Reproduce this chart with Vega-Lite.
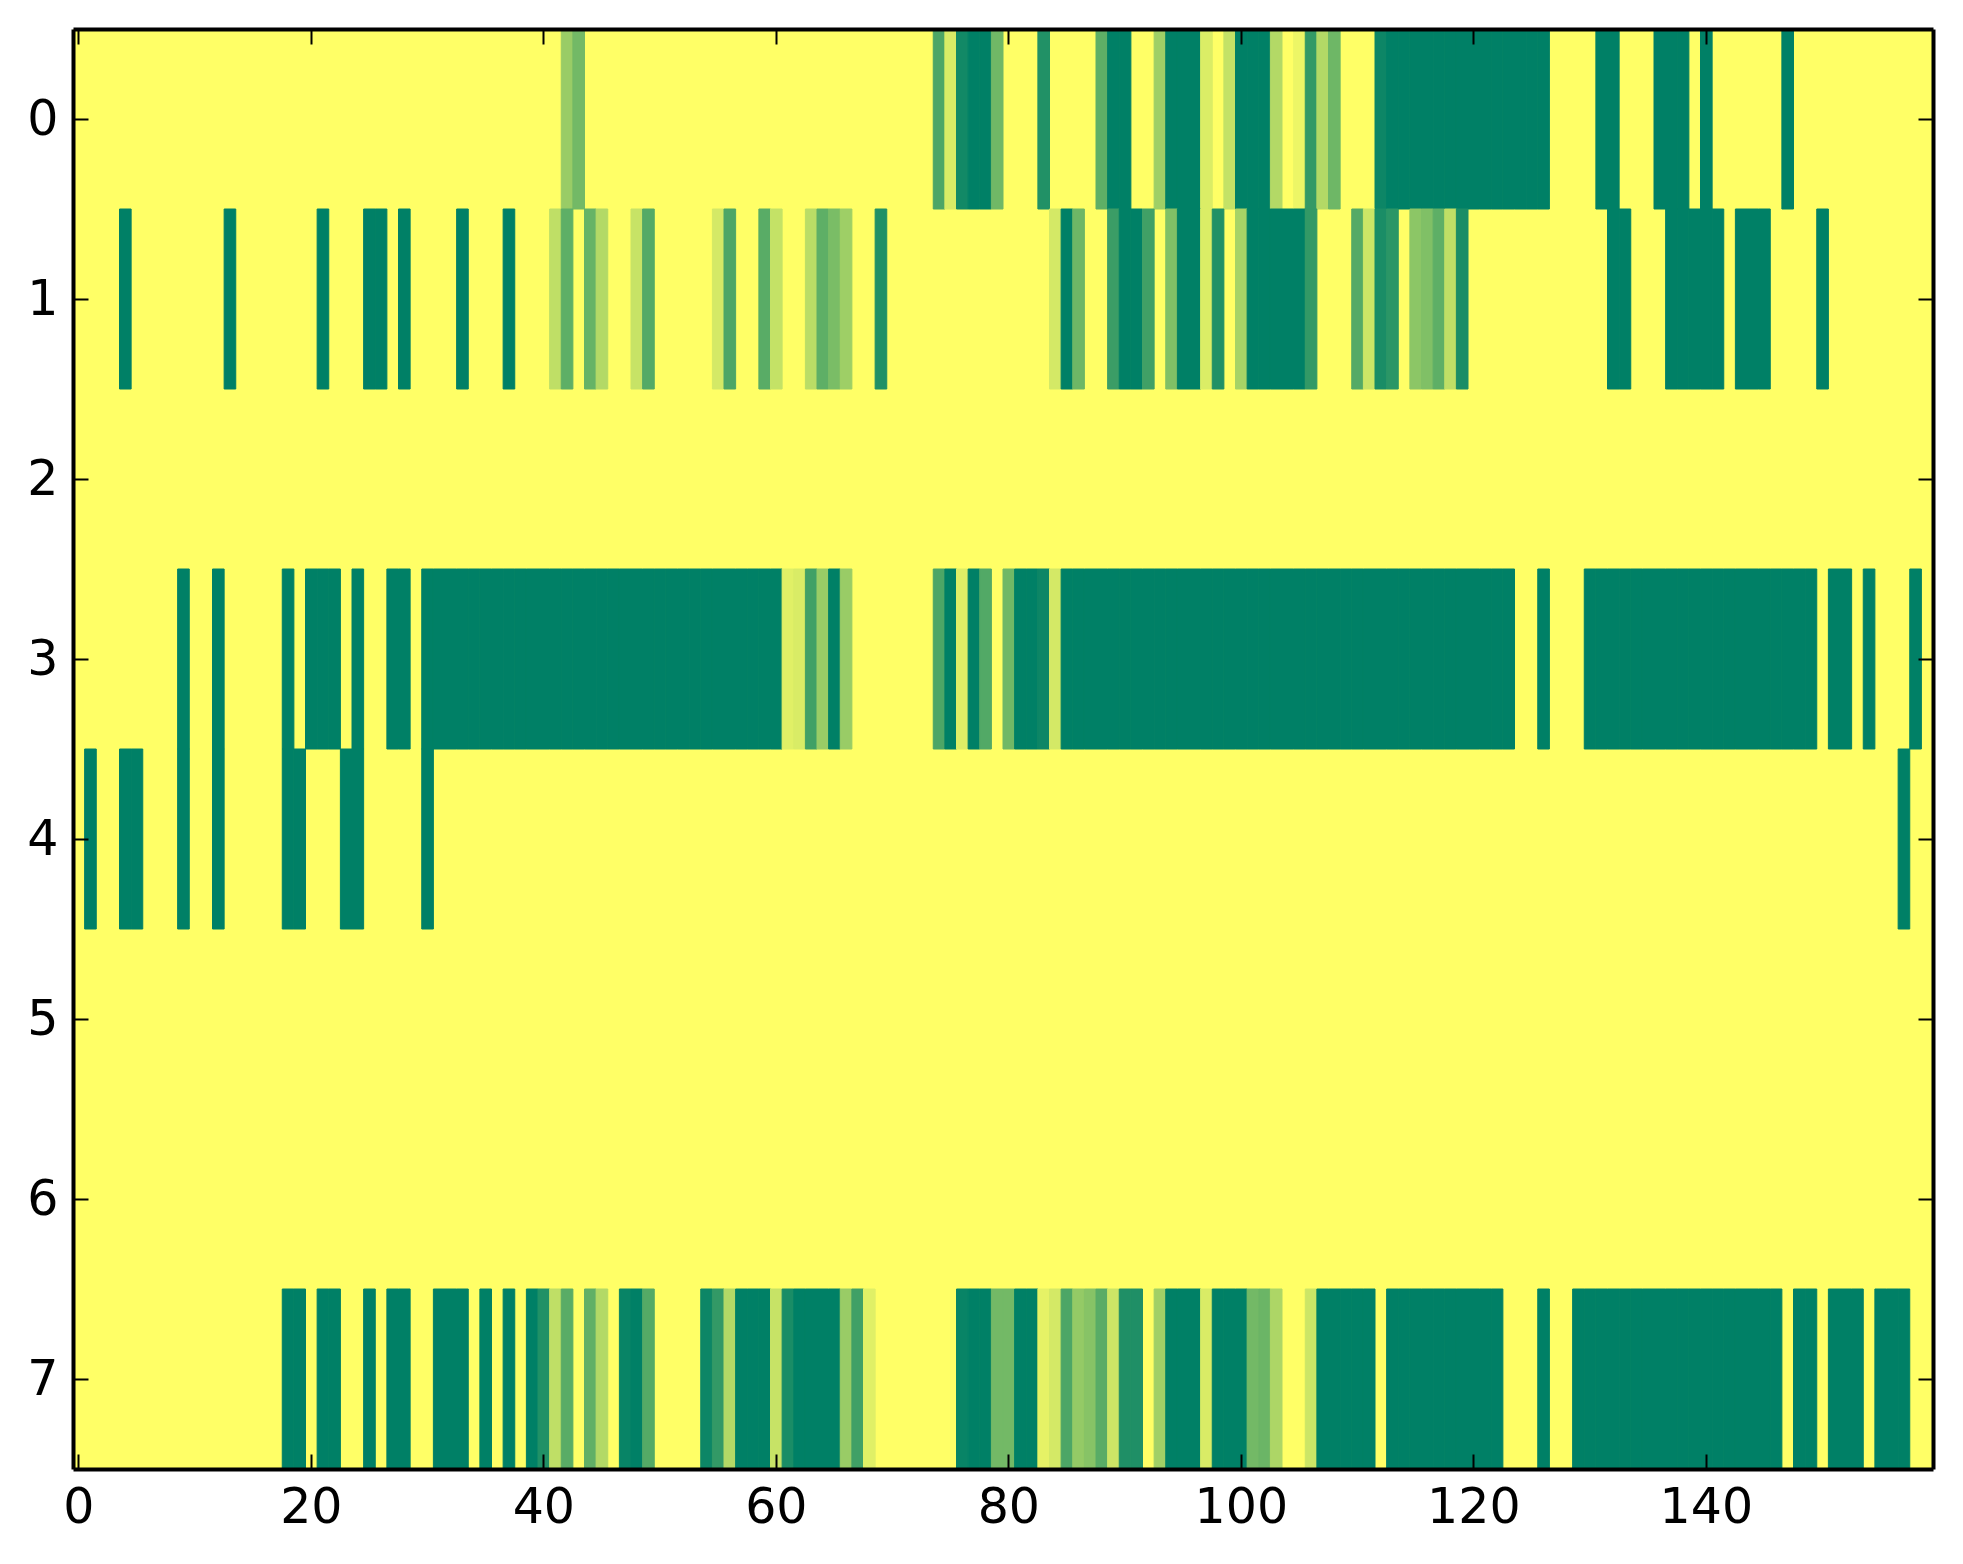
{"$schema":"https://vega.github.io/schema/vega-lite/v6.json","width":1860,"height":1440,"autosize":{"type":"none"},"padding":{"left":73,"top":29,"right":30,"bottom":95},"background":"white","config":{"view":{"fill":"#ffff66","stroke":null},"axis":{"grid":false,"domain":true,"domainColor":"black","domainWidth":4,"tickColor":"black","tickWidth":2,"labelColor":"black","labelFont":"DejaVu Sans","labelFontSize":49,"title":null}},"data":{"values":[
{"x":42,"y":0,"v":0.4},{"x":43,"y":0,"v":0.55},{"x":74,"y":0,"v":0.7},{"x":75,"y":0,"v":0.15},{"x":76,"y":0,"v":0.93},{"x":77,"y":0,"v":1},{"x":78,"y":0,"v":1},{"x":79,"y":0,"v":0.56},{"x":83,"y":0,"v":0.87},{"x":88,"y":0,"v":0.63},{"x":89,"y":0,"v":1},{"x":90,"y":0,"v":1},{"x":93,"y":0,"v":0.38},{"x":94,"y":0,"v":1},{"x":95,"y":0,"v":1},{"x":96,"y":0,"v":1},{"x":97,"y":0,"v":0.14},{"x":99,"y":0,"v":0.23},{"x":100,"y":0,"v":1},{"x":101,"y":0,"v":1},{"x":102,"y":0,"v":1},{"x":103,"y":0,"v":0.3},{"x":105,"y":0,"v":0.07},{"x":106,"y":0,"v":0.8},{"x":107,"y":0,"v":0.3},{"x":108,"y":0,"v":0.57},{"x":112,"y":0,"v":0.95},{"x":113,"y":0,"v":1},{"x":114,"y":0,"v":1},{"x":115,"y":0,"v":1},{"x":116,"y":0,"v":1},{"x":117,"y":0,"v":1},{"x":118,"y":0,"v":1},{"x":119,"y":0,"v":1},{"x":120,"y":0,"v":1},{"x":121,"y":0,"v":1},{"x":122,"y":0,"v":1},{"x":123,"y":0,"v":1},{"x":124,"y":0,"v":1},{"x":125,"y":0,"v":1},{"x":126,"y":0,"v":1},{"x":131,"y":0,"v":1},{"x":132,"y":0,"v":1},{"x":136,"y":0,"v":1},{"x":137,"y":0,"v":1},{"x":138,"y":0,"v":1},{"x":140,"y":0,"v":1},{"x":147,"y":0,"v":1},
{"x":4,"y":1,"v":1},{"x":13,"y":1,"v":1},{"x":21,"y":1,"v":1},{"x":25,"y":1,"v":1},{"x":26,"y":1,"v":1},{"x":28,"y":1,"v":1},{"x":33,"y":1,"v":1},{"x":37,"y":1,"v":1},{"x":41,"y":1,"v":0.25},{"x":42,"y":1,"v":0.63},{"x":44,"y":1,"v":0.6},{"x":45,"y":1,"v":0.3},{"x":48,"y":1,"v":0.22},{"x":49,"y":1,"v":0.67},{"x":55,"y":1,"v":0.17},{"x":56,"y":1,"v":0.7},{"x":59,"y":1,"v":0.65},{"x":60,"y":1,"v":0.23},{"x":63,"y":1,"v":0.27},{"x":64,"y":1,"v":0.63},{"x":65,"y":1,"v":0.52},{"x":66,"y":1,"v":0.38},{"x":69,"y":1,"v":0.87},{"x":84,"y":1,"v":0.17},{"x":85,"y":1,"v":1},{"x":86,"y":1,"v":0.57},{"x":89,"y":1,"v":0.77},{"x":90,"y":1,"v":1},{"x":91,"y":1,"v":1},{"x":92,"y":1,"v":0.75},{"x":94,"y":1,"v":0.5},{"x":95,"y":1,"v":1},{"x":96,"y":1,"v":1},{"x":97,"y":1,"v":0.14},{"x":98,"y":1,"v":0.87},{"x":100,"y":1,"v":0.35},{"x":101,"y":1,"v":1},{"x":102,"y":1,"v":1},{"x":103,"y":1,"v":1},{"x":104,"y":1,"v":1},{"x":105,"y":1,"v":1},{"x":106,"y":1,"v":0.8},{"x":110,"y":1,"v":0.67},{"x":111,"y":1,"v":0.2},{"x":112,"y":1,"v":0.9},{"x":113,"y":1,"v":0.83},{"x":115,"y":1,"v":0.45},{"x":116,"y":1,"v":0.5},{"x":117,"y":1,"v":0.63},{"x":118,"y":1,"v":0.25},{"x":119,"y":1,"v":0.9},{"x":132,"y":1,"v":1},{"x":133,"y":1,"v":1},{"x":137,"y":1,"v":1},{"x":138,"y":1,"v":1},{"x":139,"y":1,"v":1},{"x":140,"y":1,"v":1},{"x":141,"y":1,"v":1},{"x":143,"y":1,"v":1},{"x":144,"y":1,"v":1},{"x":145,"y":1,"v":1},{"x":150,"y":1,"v":1},
{"x":9,"y":3,"v":1},{"x":12,"y":3,"v":1},{"x":18,"y":3,"v":1},{"x":20,"y":3,"v":1},{"x":21,"y":3,"v":1},{"x":22,"y":3,"v":1},{"x":24,"y":3,"v":1},{"x":27,"y":3,"v":1},{"x":28,"y":3,"v":1},{"x":30,"y":3,"v":1},{"x":31,"y":3,"v":1},{"x":32,"y":3,"v":1},{"x":33,"y":3,"v":1},{"x":34,"y":3,"v":1},{"x":35,"y":3,"v":1},{"x":36,"y":3,"v":1},{"x":37,"y":3,"v":1},{"x":38,"y":3,"v":1},{"x":39,"y":3,"v":1},{"x":40,"y":3,"v":1},{"x":41,"y":3,"v":1},{"x":42,"y":3,"v":1},{"x":43,"y":3,"v":1},{"x":44,"y":3,"v":1},{"x":45,"y":3,"v":1},{"x":46,"y":3,"v":1},{"x":47,"y":3,"v":1},{"x":48,"y":3,"v":1},{"x":49,"y":3,"v":1},{"x":50,"y":3,"v":1},{"x":51,"y":3,"v":1},{"x":52,"y":3,"v":1},{"x":53,"y":3,"v":1},{"x":54,"y":3,"v":1},{"x":55,"y":3,"v":1},{"x":56,"y":3,"v":1},{"x":57,"y":3,"v":1},{"x":58,"y":3,"v":1},{"x":59,"y":3,"v":1},{"x":60,"y":3,"v":1},{"x":61,"y":3,"v":0.12},{"x":62,"y":3,"v":0.15},{"x":63,"y":3,"v":0.75},{"x":64,"y":3,"v":0.4},{"x":65,"y":3,"v":1},{"x":66,"y":3,"v":0.4},{"x":74,"y":3,"v":0.7},{"x":75,"y":3,"v":1},{"x":76,"y":3,"v":0.13},{"x":77,"y":3,"v":1},{"x":78,"y":3,"v":0.68},{"x":80,"y":3,"v":0.56},{"x":81,"y":3,"v":1},{"x":82,"y":3,"v":1},{"x":83,"y":3,"v":0.95},{"x":84,"y":3,"v":0.17},{"x":85,"y":3,"v":1},{"x":86,"y":3,"v":1},{"x":87,"y":3,"v":1},{"x":88,"y":3,"v":1},{"x":89,"y":3,"v":1},{"x":90,"y":3,"v":1},{"x":91,"y":3,"v":1},{"x":92,"y":3,"v":1},{"x":93,"y":3,"v":1},{"x":94,"y":3,"v":1},{"x":95,"y":3,"v":1},{"x":96,"y":3,"v":1},{"x":97,"y":3,"v":1},{"x":98,"y":3,"v":1},{"x":99,"y":3,"v":1},{"x":100,"y":3,"v":1},{"x":101,"y":3,"v":1},{"x":102,"y":3,"v":1},{"x":103,"y":3,"v":1},{"x":104,"y":3,"v":1},{"x":105,"y":3,"v":1},{"x":106,"y":3,"v":1},{"x":107,"y":3,"v":1},{"x":108,"y":3,"v":1},{"x":109,"y":3,"v":1},{"x":110,"y":3,"v":1},{"x":111,"y":3,"v":1},{"x":112,"y":3,"v":1},{"x":113,"y":3,"v":1},{"x":114,"y":3,"v":1},{"x":115,"y":3,"v":1},{"x":116,"y":3,"v":1},{"x":117,"y":3,"v":1},{"x":118,"y":3,"v":1},{"x":119,"y":3,"v":1},{"x":120,"y":3,"v":1},{"x":121,"y":3,"v":1},{"x":122,"y":3,"v":1},{"x":123,"y":3,"v":1},{"x":126,"y":3,"v":1},{"x":130,"y":3,"v":1},{"x":131,"y":3,"v":1},{"x":132,"y":3,"v":1},{"x":133,"y":3,"v":1},{"x":134,"y":3,"v":1},{"x":135,"y":3,"v":1},{"x":136,"y":3,"v":1},{"x":137,"y":3,"v":1},{"x":138,"y":3,"v":1},{"x":139,"y":3,"v":1},{"x":140,"y":3,"v":1},{"x":141,"y":3,"v":1},{"x":142,"y":3,"v":1},{"x":143,"y":3,"v":1},{"x":144,"y":3,"v":1},{"x":145,"y":3,"v":1},{"x":146,"y":3,"v":1},{"x":147,"y":3,"v":1},{"x":148,"y":3,"v":1},{"x":149,"y":3,"v":1},{"x":151,"y":3,"v":1},{"x":152,"y":3,"v":1},{"x":154,"y":3,"v":1},{"x":158,"y":3,"v":1},
{"x":1,"y":4,"v":1},{"x":4,"y":4,"v":1},{"x":5,"y":4,"v":1},{"x":9,"y":4,"v":1},{"x":12,"y":4,"v":1},{"x":18,"y":4,"v":1},{"x":19,"y":4,"v":1},{"x":23,"y":4,"v":1},{"x":24,"y":4,"v":1},{"x":30,"y":4,"v":1},{"x":157,"y":4,"v":1},
{"x":18,"y":7,"v":1},{"x":19,"y":7,"v":1},{"x":21,"y":7,"v":1},{"x":22,"y":7,"v":1},{"x":25,"y":7,"v":1},{"x":27,"y":7,"v":1},{"x":28,"y":7,"v":1},{"x":31,"y":7,"v":1},{"x":32,"y":7,"v":1},{"x":33,"y":7,"v":1},{"x":35,"y":7,"v":1},{"x":37,"y":7,"v":1},{"x":39,"y":7,"v":1},{"x":40,"y":7,"v":0.87},{"x":41,"y":7,"v":0.25},{"x":42,"y":7,"v":0.65},{"x":44,"y":7,"v":0.62},{"x":45,"y":7,"v":0.3},{"x":47,"y":7,"v":0.97},{"x":48,"y":7,"v":1},{"x":49,"y":7,"v":0.67},{"x":54,"y":7,"v":0.95},{"x":55,"y":7,"v":0.8},{"x":56,"y":7,"v":0.3},{"x":57,"y":7,"v":1},{"x":58,"y":7,"v":1},{"x":59,"y":7,"v":1},{"x":60,"y":7,"v":0.22},{"x":61,"y":7,"v":0.9},{"x":62,"y":7,"v":1},{"x":63,"y":7,"v":1},{"x":64,"y":7,"v":1},{"x":65,"y":7,"v":1},{"x":66,"y":7,"v":0.4},{"x":67,"y":7,"v":0.75},{"x":68,"y":7,"v":0.12},{"x":76,"y":7,"v":0.97},{"x":77,"y":7,"v":1},{"x":78,"y":7,"v":1},{"x":79,"y":7,"v":0.55},{"x":80,"y":7,"v":0.55},{"x":81,"y":7,"v":1},{"x":82,"y":7,"v":1},{"x":83,"y":7,"v":0.1},{"x":84,"y":7,"v":0.17},{"x":85,"y":7,"v":0.7},{"x":86,"y":7,"v":0.42},{"x":87,"y":7,"v":0.47},{"x":88,"y":7,"v":0.65},{"x":89,"y":7,"v":0.2},{"x":90,"y":7,"v":0.88},{"x":91,"y":7,"v":0.88},{"x":93,"y":7,"v":0.37},{"x":94,"y":7,"v":1},{"x":95,"y":7,"v":1},{"x":96,"y":7,"v":1},{"x":97,"y":7,"v":0.15},{"x":98,"y":7,"v":1},{"x":99,"y":7,"v":1},{"x":100,"y":7,"v":1},{"x":101,"y":7,"v":0.55},{"x":102,"y":7,"v":0.58},{"x":103,"y":7,"v":0.32},{"x":106,"y":7,"v":0.2},{"x":107,"y":7,"v":1},{"x":108,"y":7,"v":1},{"x":109,"y":7,"v":1},{"x":110,"y":7,"v":1},{"x":111,"y":7,"v":1},{"x":113,"y":7,"v":1},{"x":114,"y":7,"v":1},{"x":115,"y":7,"v":1},{"x":116,"y":7,"v":1},{"x":117,"y":7,"v":1},{"x":118,"y":7,"v":1},{"x":119,"y":7,"v":1},{"x":120,"y":7,"v":1},{"x":121,"y":7,"v":1},{"x":122,"y":7,"v":1},{"x":126,"y":7,"v":1},{"x":129,"y":7,"v":1},{"x":130,"y":7,"v":1},{"x":131,"y":7,"v":1},{"x":132,"y":7,"v":1},{"x":133,"y":7,"v":1},{"x":134,"y":7,"v":1},{"x":135,"y":7,"v":1},{"x":136,"y":7,"v":1},{"x":137,"y":7,"v":1},{"x":138,"y":7,"v":1},{"x":139,"y":7,"v":1},{"x":140,"y":7,"v":1},{"x":141,"y":7,"v":1},{"x":142,"y":7,"v":1},{"x":143,"y":7,"v":1},{"x":144,"y":7,"v":1},{"x":145,"y":7,"v":1},{"x":146,"y":7,"v":1},{"x":148,"y":7,"v":1},{"x":149,"y":7,"v":1},{"x":151,"y":7,"v":1},{"x":152,"y":7,"v":1},{"x":153,"y":7,"v":1},{"x":155,"y":7,"v":1},{"x":156,"y":7,"v":1},{"x":157,"y":7,"v":1}
]},
"resolve":{"axis":{"x":"independent","y":"independent"}},
"layer":[
{"mark":{"type":"rect","strokeWidth":1},"encoding":{
"x":{"field":"x","type":"ordinal","sort":null,"scale":{"domain":[0,1,2,3,4,5,6,7,8,9,10,11,12,13,14,15,16,17,18,19,20,21,22,23,24,25,26,27,28,29,30,31,32,33,34,35,36,37,38,39,40,41,42,43,44,45,46,47,48,49,50,51,52,53,54,55,56,57,58,59,60,61,62,63,64,65,66,67,68,69,70,71,72,73,74,75,76,77,78,79,80,81,82,83,84,85,86,87,88,89,90,91,92,93,94,95,96,97,98,99,100,101,102,103,104,105,106,107,108,109,110,111,112,113,114,115,116,117,118,119,120,121,122,123,124,125,126,127,128,129,130,131,132,133,134,135,136,137,138,139,140,141,142,143,144,145,146,147,148,149,150,151,152,153,154,155,156,157,158,159],"paddingInner":0,"paddingOuter":0},"axis":{"orient":"bottom","zindex":1,"values":[0,20,40,60,80,100,120,140],"tickSize":-15,"labelPadding":29,"labelAngle":0}},
"y":{"field":"y","type":"ordinal","sort":null,"scale":{"domain":[0,1,2,3,4,5,6,7],"paddingInner":0,"paddingOuter":0},"axis":{"orient":"left","zindex":1,"tickSize":-15,"labelPadding":30,"labelOffset":1}},
"color":{"field":"v","type":"quantitative","scale":{"domain":[0,1],"range":["#ffff66","#008066"],"interpolate":"rgb"},"legend":null},
"stroke":{"field":"v","type":"quantitative","scale":{"domain":[0,1],"range":["#ffff66","#008066"],"interpolate":"rgb"},"legend":null}}},
{"mark":{"type":"rect","opacity":0},"encoding":{
"x":{"field":"x","type":"ordinal","sort":null,"axis":{"orient":"top","zindex":1,"values":[0,20,40,60,80,100,120,140],"tickSize":-15,"labels":false}},
"y":{"field":"y","type":"ordinal","sort":null,"axis":{"orient":"right","zindex":1,"tickSize":-15,"labels":false}}}}
]}
